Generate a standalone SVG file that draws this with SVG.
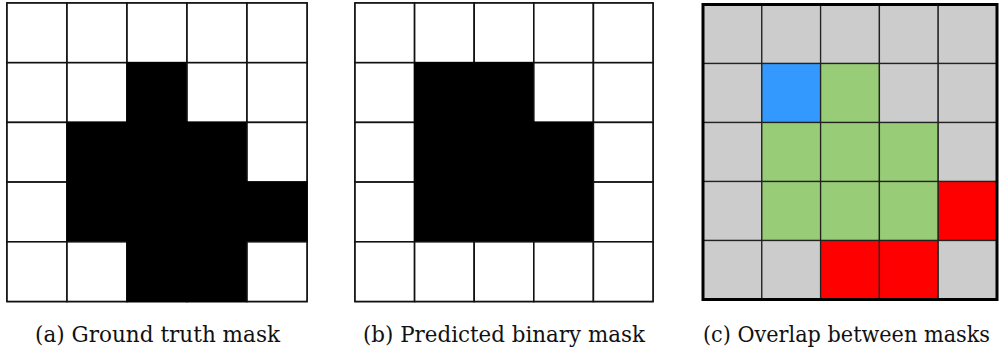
<svg xmlns="http://www.w3.org/2000/svg" width="1004" height="354" viewBox="0 0 1004 354">
<style>
.w{fill:#fff;stroke:#111;stroke-width:1.6}
.k{fill:#000;stroke:#000;stroke-width:1.6}
.g{fill:#cccccc;stroke:#222;stroke-width:1.3}
.b{fill:#3399ff;stroke:#222;stroke-width:1.3}
.n{fill:#99cc77;stroke:#222;stroke-width:1.3}
.r{fill:#ff0000;stroke:#222;stroke-width:1.3}
.cap{font-family:"DejaVu Serif","Liberation Serif",serif;font-size:21.5px;fill:#111;text-anchor:middle}
</style>
<rect width="1004" height="354" fill="#fff"/>
<g id="ground-truth">
<rect class="w" x="7" y="3" width="300" height="298.5"/>
<g>
<rect class="w" x="7" y="3" width="60" height="59.7"/><rect class="w" x="67" y="3" width="60" height="59.7"/><rect class="w" x="127" y="3" width="60" height="59.7"/><rect class="w" x="187" y="3" width="60" height="59.7"/><rect class="w" x="247" y="3" width="60" height="59.7"/>
<rect class="w" x="7" y="62.7" width="60" height="59.7"/><rect class="w" x="67" y="62.7" width="60" height="59.7"/><rect class="k" x="127" y="62.7" width="60" height="59.7"/><rect class="w" x="187" y="62.7" width="60" height="59.7"/><rect class="w" x="247" y="62.7" width="60" height="59.7"/>
<rect class="w" x="7" y="122.4" width="60" height="59.7"/><rect class="k" x="67" y="122.4" width="60" height="59.7"/><rect class="k" x="127" y="122.4" width="60" height="59.7"/><rect class="k" x="187" y="122.4" width="60" height="59.7"/><rect class="w" x="247" y="122.4" width="60" height="59.7"/>
<rect class="w" x="7" y="182.1" width="60" height="59.7"/><rect class="k" x="67" y="182.1" width="60" height="59.7"/><rect class="k" x="127" y="182.1" width="60" height="59.7"/><rect class="k" x="187" y="182.1" width="60" height="59.7"/><rect class="k" x="247" y="182.1" width="60" height="59.7"/>
<rect class="w" x="7" y="241.8" width="60" height="59.7"/><rect class="w" x="67" y="241.8" width="60" height="59.7"/><rect class="k" x="127" y="241.8" width="60" height="59.7"/><rect class="k" x="187" y="241.8" width="60" height="59.7"/><rect class="w" x="247" y="241.8" width="60" height="59.7"/>
</g>
<text class="cap" x="157.5" y="342" textLength="245" lengthAdjust="spacingAndGlyphs">(a) Ground truth mask</text>
</g>
<g id="predicted">
<rect class="w" x="355" y="3" width="298" height="298.5"/>
<rect class="w" x="355" y="3" width="59.6" height="59.7"/><rect class="w" x="414.6" y="3" width="59.6" height="59.7"/><rect class="w" x="474.2" y="3" width="59.6" height="59.7"/><rect class="w" x="533.8" y="3" width="59.6" height="59.7"/><rect class="w" x="593.4" y="3" width="59.6" height="59.7"/>
<rect class="w" x="355" y="62.7" width="59.6" height="59.7"/><rect class="k" x="414.6" y="62.7" width="59.6" height="59.7"/><rect class="k" x="474.2" y="62.7" width="59.6" height="59.7"/><rect class="w" x="533.8" y="62.7" width="59.6" height="59.7"/><rect class="w" x="593.4" y="62.7" width="59.6" height="59.7"/>
<rect class="w" x="355" y="122.4" width="59.6" height="59.7"/><rect class="k" x="414.6" y="122.4" width="59.6" height="59.7"/><rect class="k" x="474.2" y="122.4" width="59.6" height="59.7"/><rect class="k" x="533.8" y="122.4" width="59.6" height="59.7"/><rect class="w" x="593.4" y="122.4" width="59.6" height="59.7"/>
<rect class="w" x="355" y="182.1" width="59.6" height="59.7"/><rect class="k" x="414.6" y="182.1" width="59.6" height="59.7"/><rect class="k" x="474.2" y="182.1" width="59.6" height="59.7"/><rect class="k" x="533.8" y="182.1" width="59.6" height="59.7"/><rect class="w" x="593.4" y="182.1" width="59.6" height="59.7"/>
<rect class="w" x="355" y="241.8" width="59.6" height="59.7"/><rect class="w" x="414.6" y="241.8" width="59.6" height="59.7"/><rect class="w" x="474.2" y="241.8" width="59.6" height="59.7"/><rect class="w" x="533.8" y="241.8" width="59.6" height="59.7"/><rect class="w" x="593.4" y="241.8" width="59.6" height="59.7"/>
<text class="cap" x="504" y="342" textLength="282" lengthAdjust="spacingAndGlyphs">(b) Predicted binary mask</text>
</g>
<g id="overlap">
<rect class="g" x="703" y="4.5" width="58.8" height="59"/><rect class="g" x="761.8" y="4.5" width="58.8" height="59"/><rect class="g" x="820.6" y="4.5" width="58.8" height="59"/><rect class="g" x="879.4" y="4.5" width="58.8" height="59"/><rect class="g" x="938.2" y="4.5" width="58.8" height="59"/>
<rect class="g" x="703" y="63.5" width="58.8" height="59"/><rect class="b" x="761.8" y="63.5" width="58.8" height="59"/><rect class="n" x="820.6" y="63.5" width="58.8" height="59"/><rect class="g" x="879.4" y="63.5" width="58.8" height="59"/><rect class="g" x="938.2" y="63.5" width="58.8" height="59"/>
<rect class="g" x="703" y="122.5" width="58.8" height="59"/><rect class="n" x="761.8" y="122.5" width="58.8" height="59"/><rect class="n" x="820.6" y="122.5" width="58.8" height="59"/><rect class="n" x="879.4" y="122.5" width="58.8" height="59"/><rect class="g" x="938.2" y="122.5" width="58.8" height="59"/>
<rect class="g" x="703" y="181.5" width="58.8" height="59"/><rect class="n" x="761.8" y="181.5" width="58.8" height="59"/><rect class="n" x="820.6" y="181.5" width="58.8" height="59"/><rect class="n" x="879.4" y="181.5" width="58.8" height="59"/><rect class="r" x="938.2" y="181.5" width="58.8" height="59"/>
<rect class="g" x="703" y="240.5" width="58.8" height="59"/><rect class="g" x="761.8" y="240.5" width="58.8" height="59"/><rect class="r" x="820.6" y="240.5" width="58.8" height="59"/><rect class="r" x="879.4" y="240.5" width="58.8" height="59"/><rect class="g" x="938.2" y="240.5" width="58.8" height="59"/>
<rect x="703" y="4.5" width="294" height="295" fill="none" stroke="#000" stroke-width="3"/>
<text class="cap" x="846.5" y="342" textLength="287" lengthAdjust="spacingAndGlyphs">(c) Overlap between masks</text>
</g>
<g id="connectors"/>
</svg>
